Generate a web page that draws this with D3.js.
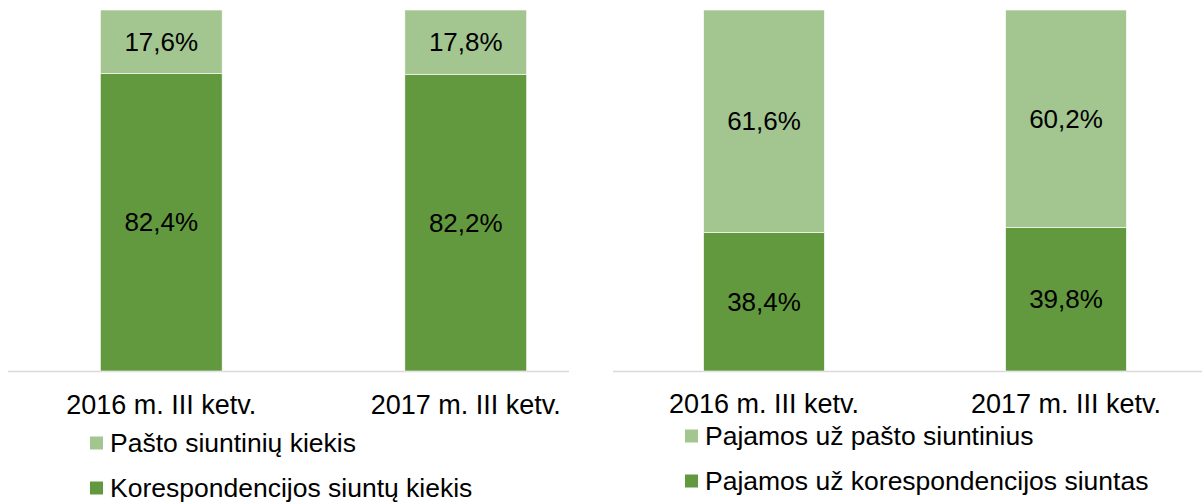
<!DOCTYPE html>
<html>
<head>
<meta charset="utf-8">
<script src="https://cdn.jsdelivr.net/npm/d3@7"></script>
<style>
  html, body { margin: 0; padding: 0; background: #fff; }
  svg { display: block; }
  text { font-family: "Liberation Sans", Arial, sans-serif; fill: #000; }
</style>
</head>
<body>
<svg id="chart" width="1202" height="502"></svg>
<script>
const categories = ["2016 m. III ketv.", "2017 m. III ketv."];

// Left panel (quantities)
const leftSeries = ["Pašto siuntinių kiekis", "Korespondencijos siuntų kiekis"];
const leftParcels = [17.6, 17.8];
const leftLetters = [82.4, 82.2];

// Right panel (revenue)
const rightSeries = ["Pajamos už pašto siuntinius", "Pajamos už korespondencijos siuntas"];
const rightParcels = [61.6, 60.2];
const rightLetters = [38.4, 39.8];

const colorLight = "#A3C590";
const colorDark = "#62993E";

const svg = d3.select("#chart");
const y = d3.scaleLinear().domain([0, 100]).range([371, 10]);

function fmt(v) { return v.toFixed(1).replace(".", ",") + "%"; }

function panel(cfg) {
  const g = svg.append("g");
  const x = d3.scaleBand().domain(categories).range(cfg.range)
    .paddingInner(0.6).paddingOuter(0.3);

  g.append("line")
    .attr("x1", cfg.axis[0]).attr("x2", cfg.axis[1])
    .attr("y1", y(0) + 0.5).attr("y2", y(0) + 0.5)
    .attr("stroke", "#d9d9d9").attr("stroke-width", 1.5);

  const rows = categories.map((c, i) => ({ c, bottom: cfg.bottom[i], top: cfg.top[i] }));

  g.selectAll(".b").data(rows).join("rect")
    .attr("x", d => x(d.c)).attr("width", x.bandwidth())
    .attr("y", d => y(d.bottom)).attr("height", d => y(0) - y(d.bottom))
    .attr("fill", colorDark).attr("stroke", "#fff").attr("stroke-width", 0.6);
  g.selectAll(".t").data(rows).join("rect")
    .attr("x", d => x(d.c)).attr("width", x.bandwidth())
    .attr("y", d => y(d.bottom + d.top)).attr("height", d => y(d.bottom) - y(d.bottom + d.top))
    .attr("fill", colorLight).attr("stroke", "#fff").attr("stroke-width", 0.6);

  g.selectAll(".lb").data(rows).join("text")
    .attr("x", d => x(d.c) + x.bandwidth() / 2)
    .attr("y", d => (y(0) + y(d.bottom)) / 2)
    .attr("text-anchor", "middle").attr("dominant-baseline", "central")
    .style("font-size", "26px").text(d => fmt(d.bottom));
  g.selectAll(".lt").data(rows).join("text")
    .attr("x", d => x(d.c) + x.bandwidth() / 2)
    .attr("y", d => (y(d.bottom) + y(d.bottom + d.top)) / 2)
    .attr("text-anchor", "middle").attr("dominant-baseline", "central")
    .style("font-size", "26px").text(d => fmt(d.top));

  const ax = d3.axisBottom(x).tickSize(0).tickPadding(0);
  const axG = g.append("g").attr("transform", `translate(0,${cfg.catY})`).call(ax);
  axG.select(".domain").remove();
  axG.selectAll("text").attr("dy", null).attr("dominant-baseline", "central")
    .style("font-size", "27px").style("font-family", '"Liberation Sans", Arial, sans-serif').attr("fill", "#000");

  const leg = g.selectAll(".leg").data(cfg.series).join("g")
    .attr("transform", (d, i) => `translate(${cfg.legX},${cfg.legY[i]})`);
  leg.append("rect").attr("x", 0).attr("y", -6.5).attr("width", 13).attr("height", 13)
    .attr("fill", (d, i) => i === 0 ? colorLight : colorDark);
  leg.append("text").attr("x", 20).attr("y", 0).attr("dominant-baseline", "central")
    .style("font-size", "26.5px").text(d => d);
}

panel({
  range: [9, 618], axis: [8, 569],
  bottom: leftLetters, top: leftParcels,
  catY: 405, series: leftSeries, legX: 90, legY: [443, 488]
});
panel({
  range: [613, 1217], axis: [613, 1202],
  bottom: rightLetters, top: rightParcels,
  catY: 404, series: rightSeries, legX: 685, legY: [436, 481]
});
</script>
</body>
</html>
